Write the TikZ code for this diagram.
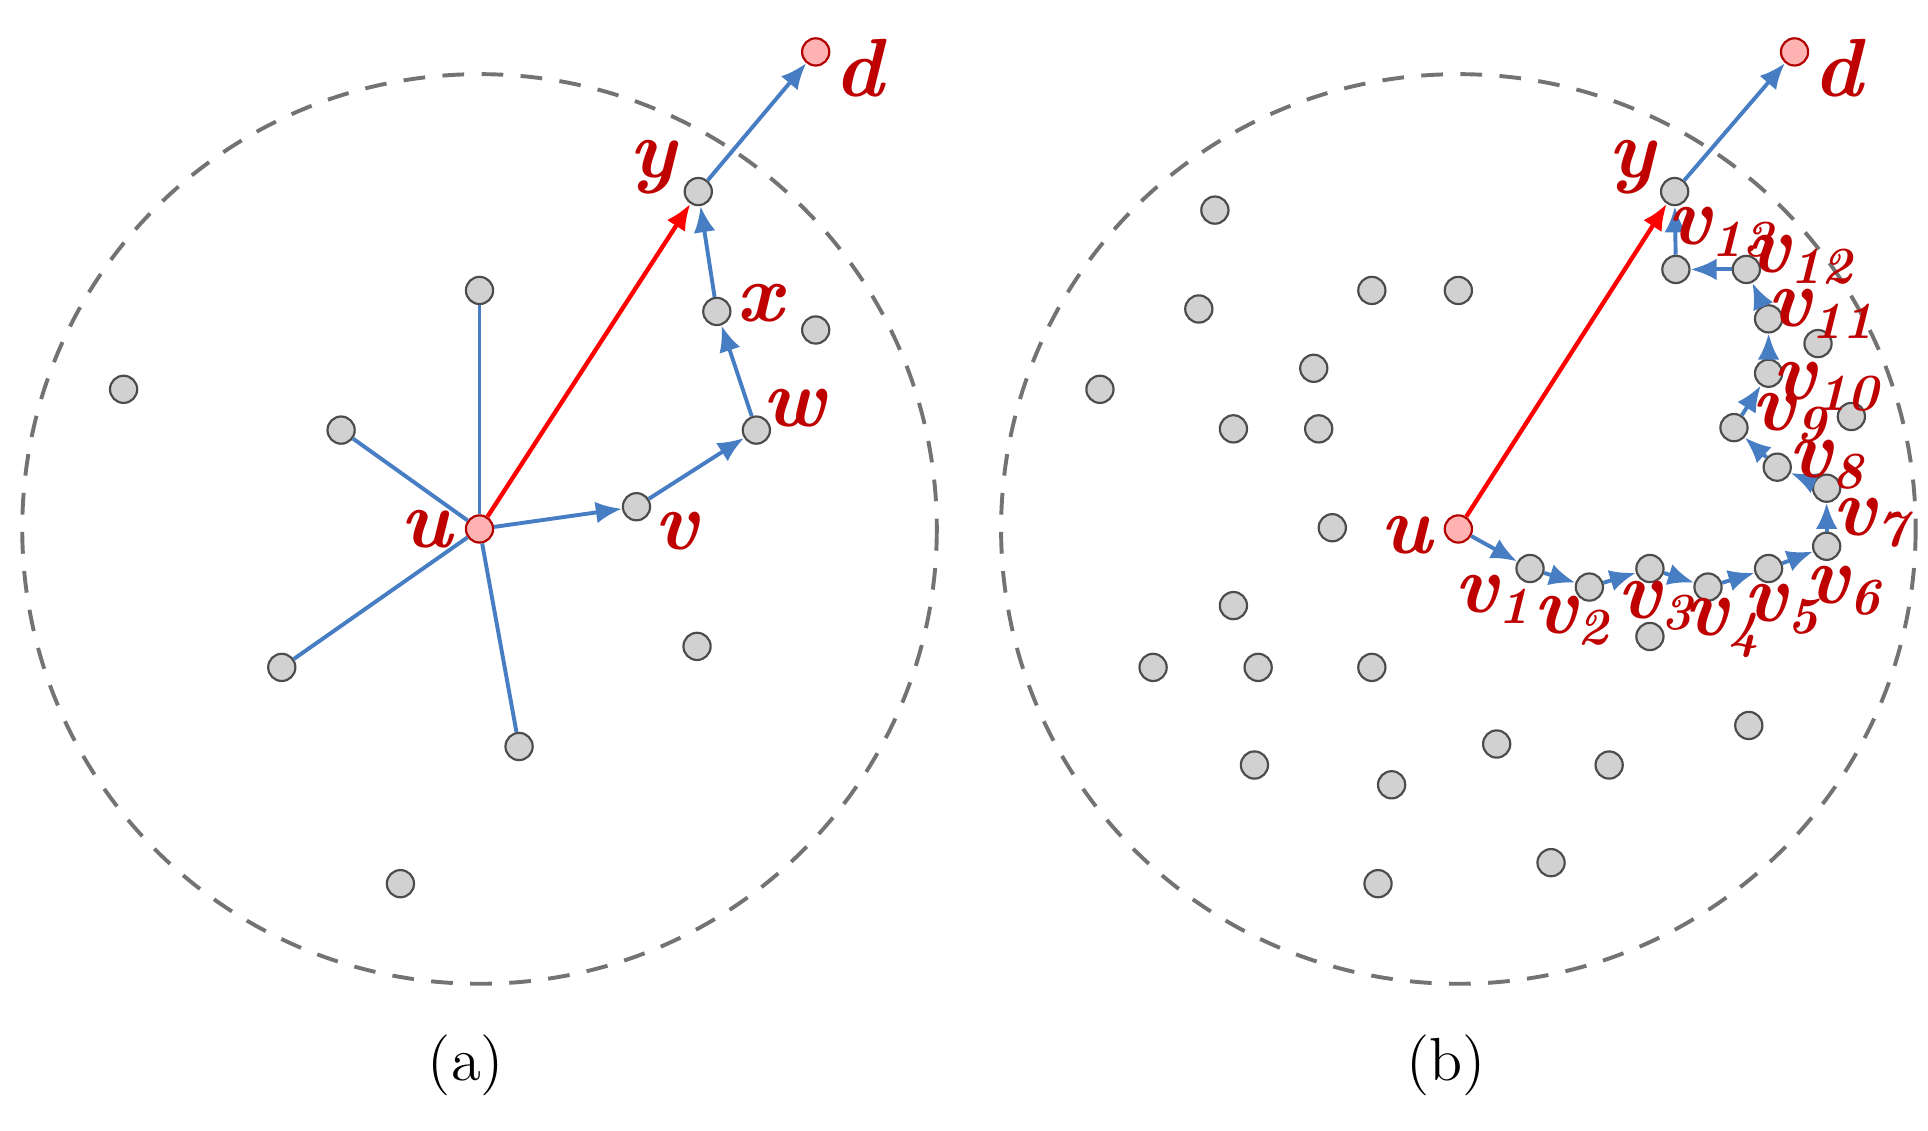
\documentclass[tikz,border=0pt]{standalone}
\usetikzlibrary{arrows.meta}
\definecolor{lblred}{RGB}{190,0,0}
\definecolor{edgeblue}{RGB}{70,125,195}
\tikzset{
  pt/.style={circle,draw=black!70,fill=black!18,inner sep=0pt,minimum size=0.22cm,line width=0.5pt},
  src/.style={circle,draw=red!70!black,fill=red!30,inner sep=0pt,minimum size=0.22cm,line width=0.5pt},
  lbl/.style={text=lblred,font=\fontsize{19}{19}\selectfont\bfseries\itshape},
  blu/.style={draw=edgeblue,line width=0.9pt},
  arr/.style={blu,-{Latex[length=6pt,width=5pt]}},
  capt/.style={font=\fontsize{14}{14}\selectfont}
}
\begin{document}
\begin{tikzpicture}[x=0.01cm,y=-0.01cm]
    \useasboundingbox(0,0)rectangle(1560,915);
    \draw[black!55,dash pattern=on 5pt off 4pt,line width=0.9pt](388,428)ellipse[x radius=370,y radius=368];
    \draw[black!55,dash pattern=on 5pt off 4pt,line width=0.9pt](1180,428)ellipse[x radius=370,y radius=368];
    % (a)
    \node[src](ad)at(660,42){};
    \node[pt](ay)at(565,155){};
    \node[pt](ax)at(580,252){};
    \node[pt](ae)at(660,267){};
    \node[pt](aw)at(612,348){};
    \node[pt](av)at(515,410){};
    \node[src](au)at(388,428){};
    \foreach \n/\x/\y in {a1/388/235,a2/276/348,a3/100/315,a4/228/540,a5/420/604,a6/564/523,a7/324/715}
        \node[pt](\n)at(\x,\y){};
    \foreach \n in {a1,a2,a4,a5}
        \draw[blu](au)--(\n);
    \draw[arr](au)--(av);
    \draw[arr](av)--(aw);
    \draw[arr](aw)--(ax);
    \draw[arr](ax)--(ay);
    \draw[arr](ay)--(ad);
    \draw[red,line width=1pt,-{Latex[length=6pt,width=5pt]}](au)--(ay);
    \node[lbl](ldd)at(695,55){d};
    \node[lbl](lay)at(528,135){y};
    \node[lbl](lax)at(615,245){x};
    \node[lbl](law)at(643,330){w};
    \node[lbl](lav)at(547,430){v};
    \node[lbl](lau)at(345,428){u};
    \node[capt](capa)at(377,862){(a)};
    % (b)
    \node[src](bd)at(1452,42){};
    \node[pt](by)at(1355,155){};
    \node[src](bu)at(1180,428){};
    \foreach \i/\x/\y in {1/1238/460,2/1286/475,3/1335/460,4/1382/475,5/1431/460,6/1478/442,7/1478/395,
        8/1438/378,9/1403/346,10/1431/302,11/1431/258,12/1413/218,13/1356/218}
        \node[pt](v\i)at(\x,\y){};
    \foreach \x/\y [count=\k] in {983/170,970/250,1110/235,1180/235,890/315,1063/298,998/347,1067/347,
        1078/427,998/490,933/540,1018/540,1110/540,1335/515,1415/587,1211/602,1302/619,1015/619,
        1126/635,1255/698,1115/715,1471/278,1498/337}
        \node[pt](b\k)at(\x,\y){};
    \draw[arr](bu)--(v1);
    \foreach \i [remember=\i as \j (initially 1)] in {2,...,13}
        \draw[arr](v\j)--(v\i);
    \draw[arr](v13)--(by);
    \draw[arr](by)--(bd);
    \draw[red,line width=1pt,-{Latex[length=6pt,width=5pt]}](bu)--(by);
    \node[lbl](lbd)at(1487,55){d};
    \node[lbl](lby)at(1320,135){y};
    \node[lbl](lbu)at(1138,433){u};
    \foreach \i/\x/\y in {1/1208/485,2/1272/502,3/1340/490,4/1394/508,5/1442/493,6/1492/478,7/1514/423,
        8/1478/376,9/1448/338,10/1478/313,11/1474/254,12/1457/210,13/1393/188}
        \node[lbl,inner sep=0pt](lv\i)at(\x,\y){v\textsubscript{\fontsize{12}{12}\selectfont\i}};
    \node[capt](capb)at(1170,862){(b)};
\end{tikzpicture}
\end{document}
